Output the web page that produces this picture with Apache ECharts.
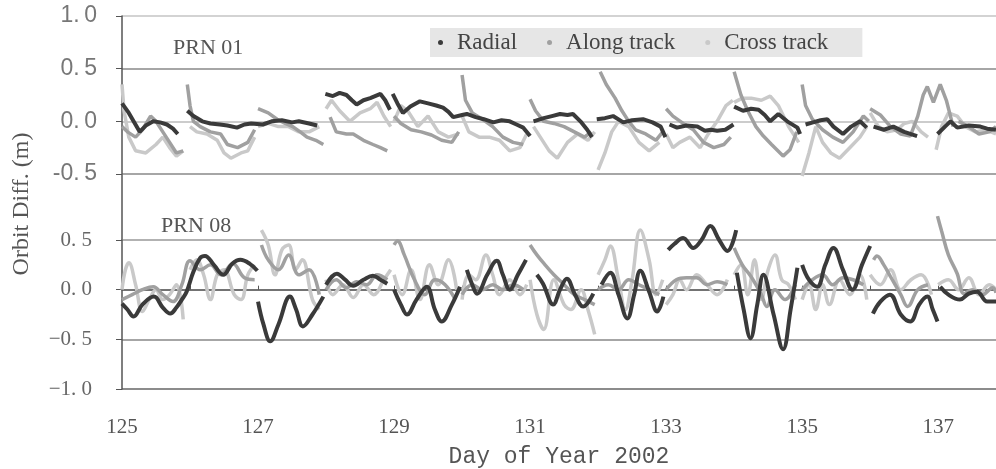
<!DOCTYPE html>
<html>
<head>
<meta charset="utf-8">
<script src="https://cdn.jsdelivr.net/npm/echarts@6/dist/echarts.min.js"></script>
<style>
  html, body { margin: 0; padding: 0; background: #fff; }
  #chart { width: 996px; height: 469px; }
</style>
</head>
<body>
<div id="chart"></div>
<script>
// 图例名称
const seriesNames = ['Radial', 'Along track', 'Cross track']
// 坐标轴刻度
const dayTicks = [125, 127, 129, 131, 133, 135, 137]
const topTicks = [-0.5, 0.0, 0.5, 1.0]
const bottomTicks = [-1.0, -0.5, 0.0, 0.5]

// PRN 01 (单位 m), '-' 为弧段间断
const radial01 = [
  [125.0, 0.17], [125.1, 0.08], [125.26, -0.1], [125.35, -0.04], [125.46, 0.0], [125.56, -0.01], [125.66, -0.03], [125.75, -0.07], [125.82, -0.12], [125.9, '-'],
  [125.96, 0.1], [126.05, 0.05], [126.18, 0.0], [126.3, -0.02], [126.44, -0.03], [126.55, -0.04], [126.69, -0.06], [126.8, -0.03], [126.9, -0.02], [127.07, -0.03], [127.2, 0.0], [127.35, 0.01], [127.5, -0.01], [127.6, 0.0], [127.75, -0.02], [127.87, -0.04], [127.95, '-'],
  [127.99, 0.26], [128.1, 0.24], [128.2, 0.27], [128.3, 0.25], [128.38, 0.2], [128.45, 0.16], [128.55, 0.2], [128.65, 0.22], [128.8, 0.26], [128.87, 0.2], [128.94, 0.11], [128.96, '-'],
  [128.98, 0.26], [129.05, 0.17], [129.13, 0.08], [129.24, 0.14], [129.38, 0.19], [129.5, 0.17], [129.62, 0.15], [129.72, 0.13], [129.8, 0.09], [129.87, 0.04], [130.0, 0.06], [130.07, 0.07], [130.2, 0.04], [130.32, 0.02], [130.46, -0.01], [130.58, 0.01], [130.7, 0.0], [130.8, -0.03], [130.9, -0.06], [131.0, -0.14], [131.02, '-'],
  [131.05, 0.0], [131.2, 0.03], [131.32, 0.05], [131.44, 0.07], [131.55, 0.06], [131.63, 0.07], [131.74, 0.0], [131.84, -0.08], [131.91, -0.15], [131.95, '-'],
  [131.98, 0.02], [132.1, 0.03], [132.22, 0.05], [132.37, -0.01], [132.5, 0.01], [132.66, 0.02], [132.8, -0.01], [132.92, -0.05], [132.99, -0.15], [133.02, '-'],
  [133.05, -0.03], [133.16, -0.06], [133.3, -0.04], [133.46, -0.05], [133.57, -0.09], [133.66, -0.08], [133.75, -0.09], [133.87, -0.08], [133.99, -0.03], [133.995, '-'],
  [134.0, 0.14], [134.13, 0.1], [134.25, 0.12], [134.36, 0.11], [134.45, 0.06], [134.53, 0.0], [134.65, 0.07], [134.78, 0.0], [134.93, -0.06], [134.97, -0.12], [135.0, '-'],
  [135.05, -0.03], [135.16, -0.01], [135.27, 0.01], [135.37, 0.02], [135.46, -0.05], [135.6, -0.12], [135.72, -0.05], [135.85, 0.0], [135.95, -0.06], [136.0, '-'],
  [136.05, -0.05], [136.2, -0.08], [136.34, -0.05], [136.5, -0.1], [136.69, -0.14], [136.8, '-'],
  [136.99, -0.12], [137.1, -0.05], [137.18, 0.0], [137.28, -0.06], [137.45, -0.04], [137.62, -0.05], [137.72, -0.07], [137.85, -0.08]
]
const along01 = [
  [125.0, -0.05], [125.08, -0.1], [125.2, -0.15], [125.3, -0.08], [125.42, 0.05], [125.5, 0.0], [125.6, -0.1], [125.7, -0.2], [125.8, -0.3], [125.9, -0.28], [125.93, '-'],
  [125.96, 0.35], [126.0, 0.15], [126.05, 0.0], [126.15, -0.05], [126.3, -0.1], [126.45, -0.12], [126.55, -0.22], [126.7, -0.25], [126.85, -0.2], [126.95, -0.08], [126.97, '-'],
  [127.0, 0.12], [127.15, 0.08], [127.28, 0.02], [127.4, -0.02], [127.51, -0.05], [127.62, -0.1], [127.72, -0.15], [127.85, -0.18], [127.96, -0.22], [128.0, '-'],
  [128.06, 0.04], [128.15, -0.1], [128.3, -0.12], [128.4, -0.12], [128.55, -0.18], [128.69, -0.22], [128.8, -0.25], [128.9, -0.28], [128.95, '-'],
  [129.0, 0.05], [129.1, -0.02], [129.25, -0.08], [129.4, -0.1], [129.55, -0.13], [129.7, -0.18], [129.85, -0.2], [129.95, -0.1], [129.97, '-'],
  [130.0, 0.44], [130.05, 0.2], [130.15, 0.08], [130.3, 0.02], [130.45, -0.05], [130.6, -0.15], [130.75, -0.2], [130.9, -0.22], [130.95, '-'],
  [131.0, 0.21], [131.08, 0.1], [131.2, 0.0], [131.35, -0.02], [131.5, -0.05], [131.65, -0.1], [131.8, -0.15], [131.9, -0.1], [131.95, '-'],
  [132.03, 0.47], [132.12, 0.35], [132.25, 0.22], [132.35, 0.1], [132.45, 0.0], [132.55, -0.08], [132.7, -0.12], [132.85, -0.18], [132.95, -0.1], [132.97, '-'],
  [133.0, 0.12], [133.1, 0.05], [133.25, -0.02], [133.4, -0.08], [133.55, -0.2], [133.7, -0.25], [133.85, -0.22], [133.95, -0.15], [133.97, '-'],
  [134.0, 0.47], [134.1, 0.25], [134.2, 0.1], [134.32, -0.05], [134.43, -0.14], [134.55, -0.22], [134.72, -0.33], [134.82, -0.27], [134.92, -0.1], [134.96, '-'],
  [135.0, 0.35], [135.05, 0.15], [135.15, 0.02], [135.3, -0.08], [135.45, -0.15], [135.6, -0.2], [135.75, -0.1], [135.9, 0.05], [135.98, 0.0], [135.99, '-'],
  [136.0, 0.12], [136.15, 0.06], [136.3, -0.05], [136.45, -0.12], [136.59, -0.14], [136.7, 0.05], [136.78, 0.25], [136.84, 0.33], [136.93, 0.18], [137.03, 0.35], [137.12, 0.2], [137.22, -0.05], [137.26, '-'],
  [137.3, 0.0], [137.45, -0.05], [137.6, -0.12], [137.75, -0.1], [137.85, -0.05]
]
const cross01 = [
  [125.0, 0.35], [125.03, 0.1], [125.1, -0.15], [125.2, -0.28], [125.35, -0.3], [125.5, -0.22], [125.6, -0.15], [125.7, -0.25], [125.8, -0.33], [125.9, -0.28], [125.95, '-'],
  [126.0, -0.05], [126.1, -0.1], [126.25, -0.12], [126.4, -0.18], [126.5, -0.3], [126.6, -0.35], [126.75, -0.3], [126.85, -0.28], [126.95, -0.15], [126.97, '-'],
  [127.0, -0.05], [127.15, -0.02], [127.3, -0.05], [127.45, -0.05], [127.6, -0.1], [127.75, -0.1], [127.9, -0.05], [127.95, '-'],
  [128.0, 0.12], [128.08, 0.2], [128.2, 0.1], [128.35, 0.0], [128.5, 0.08], [128.65, 0.12], [128.75, 0.18], [128.85, 0.05], [128.95, -0.05], [128.97, '-'],
  [129.0, 0.0], [129.1, 0.15], [129.2, 0.1], [129.35, -0.05], [129.5, 0.05], [129.65, -0.1], [129.8, -0.15], [129.95, -0.12], [129.97, '-'],
  [130.0, 0.05], [130.1, -0.1], [130.25, -0.15], [130.4, -0.15], [130.55, -0.18], [130.7, -0.28], [130.85, -0.25], [130.95, -0.12], [131.0, '-'],
  [131.05, -0.05], [131.15, -0.15], [131.28, -0.28], [131.4, -0.35], [131.55, -0.2], [131.7, -0.12], [131.85, -0.18], [131.95, -0.1], [131.97, '-'],
  [132.0, -0.46], [132.1, -0.3], [132.2, -0.1], [132.3, 0.0], [132.45, -0.05], [132.6, -0.2], [132.75, -0.28], [132.9, -0.2], [132.95, '-'],
  [133.0, -0.12], [133.1, -0.25], [133.2, -0.2], [133.35, -0.15], [133.5, -0.25], [133.62, -0.12], [133.75, 0.0], [133.88, 0.15], [133.98, 0.2], [133.99, '-'],
  [134.0, 0.18], [134.12, 0.22], [134.25, 0.22], [134.4, 0.2], [134.53, 0.24], [134.65, 0.15], [134.8, -0.05], [134.95, -0.2], [134.97, '-'],
  [135.0, -0.52], [135.1, -0.3], [135.2, -0.05], [135.3, -0.2], [135.42, -0.3], [135.55, -0.35], [135.7, -0.25], [135.85, -0.15], [135.95, -0.05], [135.97, '-'],
  [136.0, 0.08], [136.12, -0.05], [136.25, -0.1], [136.4, -0.08], [136.5, -0.02], [136.62, 0.0], [136.75, -0.1], [136.85, -0.15], [136.9, '-'],
  [136.97, -0.27], [137.05, -0.05], [137.15, 0.08], [137.28, 0.05], [137.4, -0.05], [137.55, -0.1], [137.7, -0.08], [137.85, -0.12]
]

// PRN 08 (单位 m)
const radial08 = [
  [125.0, -0.14], [125.08, -0.2], [125.17, -0.27], [125.3, -0.15], [125.47, -0.07], [125.6, -0.18], [125.71, -0.24], [125.8, -0.18], [125.88, -0.1], [125.95, -0.02], [126.05, 0.18], [126.15, 0.32], [126.22, 0.34], [126.35, 0.25], [126.49, 0.15], [126.62, 0.26], [126.74, 0.3], [126.88, 0.26], [126.99, 0.19], [126.995, '-'],
  [127.0, -0.12], [127.08, -0.35], [127.18, -0.52], [127.3, -0.35], [127.47, -0.07], [127.56, -0.2], [127.66, -0.37], [127.8, -0.25], [127.96, -0.07], [127.98, '-'],
  [128.0, 0.05], [128.16, 0.16], [128.28, 0.1], [128.4, 0.04], [128.55, 0.1], [128.69, 0.14], [128.8, 0.1], [128.9, 0.06], [128.95, '-'],
  [129.0, 0.0], [129.1, -0.15], [129.19, -0.25], [129.33, -0.1], [129.48, 0.03], [129.6, -0.2], [129.7, -0.32], [129.85, -0.15], [129.97, 0.03], [130.02, '-'],
  [130.07, 0.2], [130.15, 0.05], [130.22, -0.04], [130.37, 0.15], [130.51, 0.29], [130.6, 0.15], [130.7, 0.0], [130.82, 0.15], [130.94, 0.3], [131.0, '-'],
  [131.1, 0.15], [131.19, 0.06], [131.34, -0.15], [131.44, 0.0], [131.54, 0.11], [131.66, -0.05], [131.78, -0.17], [131.93, -0.04], [132.0, '-'],
  [132.05, 0.05], [132.18, 0.17], [132.3, -0.05], [132.43, -0.29], [132.53, -0.05], [132.62, 0.19], [132.75, -0.02], [132.87, -0.22], [132.96, -0.07], [133.0, '-'],
  [133.03, 0.4], [133.12, 0.46], [133.25, 0.52], [133.4, 0.42], [133.52, 0.5], [133.65, 0.64], [133.78, 0.5], [133.9, 0.39], [134.03, 0.6], [134.035, '-'],
  [134.04, 0.17], [134.14, -0.2], [134.24, -0.49], [134.34, -0.15], [134.43, 0.15], [134.58, -0.25], [134.72, -0.6], [134.83, -0.2], [134.93, 0.22], [134.96, '-'],
  [135.0, 0.25], [135.1, 0.1], [135.22, 0.03], [135.34, 0.25], [135.46, 0.42], [135.6, 0.2], [135.74, 0.0], [135.88, 0.25], [136.0, 0.44], [136.02, '-'],
  [136.04, -0.24], [136.15, -0.12], [136.29, -0.05], [136.45, -0.25], [136.59, -0.32], [136.72, -0.15], [136.84, -0.07], [136.92, -0.2], [136.99, -0.32], [137.01, '-'],
  [137.03, 0.03], [137.15, -0.05], [137.32, -0.1], [137.45, -0.04], [137.57, -0.02], [137.72, -0.12], [137.85, -0.12]
]
const along08 = [
  [125.0, -0.1], [125.15, -0.05], [125.3, 0.0], [125.46, 0.03], [125.6, -0.05], [125.75, -0.12], [125.88, 0.05], [126.0, 0.29], [126.15, 0.2], [126.3, 0.25], [126.45, 0.15], [126.63, 0.26], [126.8, 0.12], [126.95, 0.1], [127.0, '-'],
  [127.05, 0.45], [127.15, 0.3], [127.3, 0.2], [127.45, 0.35], [127.6, 0.15], [127.75, 0.2], [127.9, -0.05], [127.95, '-'],
  [128.0, 0.0], [128.15, 0.1], [128.3, 0.02], [128.45, 0.08], [128.6, 0.05], [128.75, 0.15], [128.9, 0.1], [128.95, '-'],
  [129.0, 0.45], [129.05, 0.49], [129.15, 0.35], [129.3, 0.1], [129.45, -0.05], [129.6, 0.1], [129.75, 0.05], [129.9, -0.1], [129.95, '-'],
  [130.0, -0.05], [130.15, 0.05], [130.3, 0.0], [130.45, 0.05], [130.6, 0.0], [130.75, 0.05], [130.9, 0.0], [130.95, '-'],
  [131.0, 0.45], [131.1, 0.35], [131.22, 0.25], [131.35, 0.15], [131.5, 0.05], [131.65, -0.05], [131.8, -0.1], [131.95, -0.15], [131.97, '-'],
  [132.0, 0.0], [132.15, 0.05], [132.3, 0.0], [132.45, 0.1], [132.6, 0.05], [132.75, 0.0], [132.9, -0.05], [132.95, '-'],
  [133.0, 0.0], [133.15, 0.1], [133.3, 0.12], [133.45, 0.12], [133.6, 0.05], [133.75, 0.08], [133.9, 0.05], [133.95, '-'],
  [134.0, 0.42], [134.12, 0.25], [134.25, 0.13], [134.4, -0.05], [134.48, -0.17], [134.6, 0.0], [134.75, -0.1], [134.9, 0.05], [134.95, '-'],
  [135.0, 0.0], [135.15, 0.1], [135.3, 0.15], [135.45, 0.05], [135.6, 0.12], [135.75, 0.1], [135.9, 0.05], [135.95, '-'],
  [136.05, 0.3], [136.1, 0.34], [136.2, 0.25], [136.3, 0.13], [136.45, -0.05], [136.55, -0.17], [136.7, 0.0], [136.85, 0.05], [136.9, '-'],
  [136.99, 0.74], [137.05, 0.59], [137.15, 0.35], [137.28, 0.16], [137.38, -0.04], [137.5, 0.0], [137.65, -0.05], [137.8, 0.02], [137.85, -0.03]
]
const cross08 = [
  [125.0, 0.0], [125.05, 0.2], [125.1, 0.27], [125.2, 0.05], [125.3, -0.22], [125.4, -0.1], [125.5, 0.0], [125.6, -0.1], [125.7, -0.05], [125.8, 0.05], [125.9, -0.3], [125.95, '-'],
  [126.0, 0.2], [126.1, 0.3], [126.2, 0.15], [126.3, -0.1], [126.4, 0.15], [126.5, 0.2], [126.65, -0.05], [126.75, -0.1], [126.85, 0.15], [126.95, 0.25], [127.0, '-'],
  [127.05, 0.6], [127.15, 0.45], [127.25, 0.15], [127.35, 0.4], [127.45, 0.45], [127.55, 0.2], [127.65, 0.3], [127.8, -0.1], [127.9, -0.2], [127.95, '-'],
  [128.0, 0.1], [128.1, -0.05], [128.25, 0.05], [128.4, -0.08], [128.55, 0.05], [128.7, -0.05], [128.85, 0.1], [128.95, 0.2], [128.97, '-'],
  [129.0, 0.15], [129.12, -0.05], [129.25, 0.2], [129.38, -0.1], [129.52, 0.25], [129.65, 0.05], [129.8, 0.3], [129.92, 0.0], [129.96, '-'],
  [130.0, -0.1], [130.1, 0.15], [130.2, 0.1], [130.35, 0.35], [130.45, 0.15], [130.55, -0.05], [130.7, 0.1], [130.85, -0.05], [130.95, 0.05], [130.97, '-'],
  [131.0, 0.1], [131.1, -0.25], [131.2, -0.4], [131.35, 0.1], [131.5, -0.15], [131.6, -0.2], [131.75, 0.0], [131.85, -0.2], [131.95, -0.45], [131.97, '-'],
  [132.0, 0.15], [132.1, 0.3], [132.18, 0.44], [132.3, 0.1], [132.4, -0.2], [132.5, 0.1], [132.62, 0.6], [132.75, 0.3], [132.85, -0.05], [132.95, 0.1], [132.97, '-'],
  [133.0, -0.15], [133.1, -0.05], [133.2, 0.1], [133.3, 0.0], [133.45, 0.15], [133.6, 0.05], [133.75, -0.05], [133.9, 0.1], [133.95, '-'],
  [134.0, 0.15], [134.1, 0.25], [134.2, -0.05], [134.3, 0.3], [134.4, -0.1], [134.5, 0.2], [134.6, 0.35], [134.7, 0.1], [134.8, 0.05], [134.9, -0.1], [134.95, '-'],
  [135.0, -0.1], [135.1, 0.05], [135.2, -0.2], [135.3, 0.05], [135.4, -0.15], [135.55, 0.1], [135.7, -0.05], [135.85, 0.15], [135.95, -0.1], [135.97, '-'],
  [136.0, 0.15], [136.15, 0.05], [136.3, 0.2], [136.45, 0.0], [136.6, 0.1], [136.75, 0.15], [136.9, -0.05], [136.95, '-'],
  [137.0, 0.05], [137.15, 0.1], [137.3, 0.0], [137.45, 0.12], [137.6, -0.05], [137.75, 0.05], [137.85, 0.0]
]

const chart = echarts.init(document.getElementById('chart'))

// 颜色: 径向深灰, 沿迹中灰, 横迹浅灰
const colors = ['#3a3a3a', '#a0a0a0', '#c9c9c9']

function makeLine(name, data, idx, color, smooth) {
  return {
    name: name,
    type: 'line',
    xAxisIndex: idx,
    yAxisIndex: idx,
    data: data,
    showSymbol: false,
    smooth: smooth,
    clip: false,
    connectNulls: false,
    lineStyle: { color: color, width: name === 'Radial' ? 4 : 3.5 },
    itemStyle: { color: color },
    z: name === 'Radial' ? 4 : (name === 'Along track' ? 3 : 2)
  }
}

const serifFont = '"Liberation Serif", "DejaVu Serif", serif'
const monoFont = '"Liberation Mono", "DejaVu Sans Mono", monospace'

const option = {
  backgroundColor: '#fff',
  animation: false,
  legend: {
    data: seriesNames,
    left: 430,
    top: 28,
    backgroundColor: '#e6e6e6',
    padding: [3, 34, 3, 8],
    itemGap: 30,
    icon: 'circle',
    itemWidth: 5,
    itemHeight: 5,
    textStyle: { fontFamily: serifFont, fontSize: 23, color: '#444', padding: [0, 0, 0, 9] }
  },
  title: [
    { text: 'PRN 01', left: 168, top: 32, textStyle: { fontFamily: serifFont, fontSize: 22, fontWeight: 'normal', color: '#555' } },
    { text: 'PRN 08', left: 156, top: 210, textStyle: { fontFamily: serifFont, fontSize: 22, fontWeight: 'normal', color: '#555' } }
  ],
  grid: [
    { left: 122, right: 0, top: 16, height: 158 },
    { left: 122, right: 0, top: 240, height: 152 }
  ],
  xAxis: [
    { type: 'value', gridIndex: 0, min: 125, max: 137.85, show: false },
    {
      type: 'value', gridIndex: 1, min: 125, max: 137.85, interval: 1,
      axisLine: { lineStyle: { color: '#555', width: 1.5 } },
      axisTick: { inside: true, length: 4, lineStyle: { color: '#555' } },
      splitLine: { show: false },
      axisLabel: {
        margin: 28, fontFamily: serifFont, fontSize: 21, color: '#555', showMaxLabel: false,
        formatter: v => dayTicks.includes(v) ? String(v) : ''
      },
      name: 'Day of Year 2002',
      nameLocation: 'middle',
      nameGap: 56,
      nameTextStyle: { fontFamily: monoFont, fontSize: 23, color: '#555' }
    }
  ],
  yAxis: [
    {
      type: 'value', gridIndex: 0, min: -0.5, max: 1.0, interval: 0.5,
      axisLine: { show: true, lineStyle: { color: '#555', width: 1.5 } },
      axisTick: { show: true, length: 6, lineStyle: { color: '#555' } },
      splitLine: { lineStyle: { color: ['#888', '#bbb', '#888', '#c4c4c4'], width: 1.5 } },
      axisLabel: {
        margin: 25, fontFamily: '"Liberation Sans", Arial, sans-serif', fontSize: 23, color: '#777',
        formatter: v => topTicks.includes(v) ? v.toFixed(1).replace('.', '.\u2009') : ''
      }
    },
    {
      type: 'value', gridIndex: 1, min: -1.0, max: 0.5, interval: 0.5,
      axisLine: { show: true, lineStyle: { color: '#555', width: 1.5 } },
      axisTick: { show: true, length: 6, lineStyle: { color: '#555' } },
      splitLine: { lineStyle: { color: ['#666', '#888', '#bbb', '#999'], width: 1.5 } },
      axisLabel: {
        margin: 30, fontFamily: serifFont, fontSize: 21, color: '#666',
        formatter: v => bottomTicks.includes(v) ? v.toFixed(1).replace('-', '\u2212').replace('.', '. ') : ''
      }
    }
  ],
  graphic: [
    // 两个面板之间的纵轴连接线
    { type: 'line', shape: { x1: 122, y1: 174, x2: 122, y2: 240 }, style: { stroke: '#555', lineWidth: 1.5 } },
    {
      type: 'text', x: 22, y: 204, rotation: Math.PI / 2,
      style: { text: 'Orbit Diff. (m)', fontFamily: serifFont, fontSize: 24, fill: '#555', align: 'center', verticalAlign: 'middle' }
    }
  ],
  series: [
    makeLine('Cross track', cross01, 0, colors[2], false),
    makeLine('Along track', along01, 0, colors[1], false),
    makeLine('Radial', radial01, 0, colors[0], false),
    makeLine('Cross track', cross08, 1, colors[2], 0.4),
    makeLine('Along track', along08, 1, colors[1], 0.4),
    makeLine('Radial', radial08, 1, colors[0], 0.4)
  ]
}

chart.setOption(option)
</script>
</body>
</html>
